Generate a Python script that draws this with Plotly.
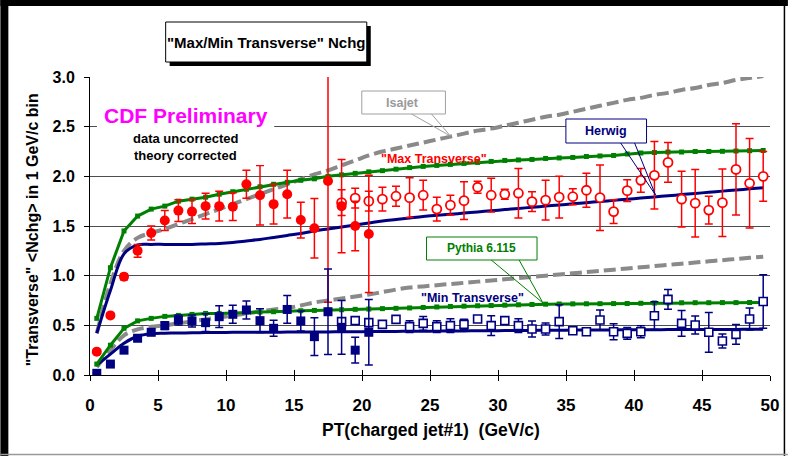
import plotly.graph_objects as go

# bin centres (GeV/c)
x_all = [0.5, 1.5, 2.5, 3.5, 4.5, 5.5, 6.5, 7.5, 8.5, 9.5,
         10.5, 11.5, 12.5, 13.5, 14.5, 15.5, 16.5, 17.5, 18.5, 19.5,
         20.5, 21.5, 22.5, 23.5, 24.5, 25.5, 26.5, 27.5, 28.5, 29.5,
         30.5, 31.5, 32.5, 33.5, 34.5, 35.5, 36.5, 37.5, 38.5, 39.5,
         40.5, 41.5, 42.5, 43.5, 44.5, 45.5, 46.5, 47.5, 48.5, 49.5]
x_low = x_all[:21]     # 0.5 .. 20.5  (filled symbols)
x_high = x_all[18:]    # 18.5 .. 49.5 (open symbols)

# "Max Transverse" data
max_low = [0.235, 0.60, 0.99, 1.25, 1.43, 1.555, 1.655, 1.645, 1.70, 1.70,
           1.695, 1.92, 1.81, 1.72, 1.82, 1.56, 1.477, 1.953, 1.70, 1.50, 1.42]
max_low_err = [0.02, 0.02, 0.03, 0.065, 0.07, 0.10, 0.11, 0.12, 0.13, 0.15,
               0.14, 0.14, 0.30, 0.20, 0.24, 0.18, 0.30, 1.22, 0.47, 0.25, 0.59]
max_high = [1.735, 1.78, 1.75, 1.77, 1.80, 1.785, 1.81, 1.67, 1.71, 1.755,
            1.89, 1.81, 1.82, 1.83, 1.745, 1.76, 1.79, 1.795, 1.86, 1.785,
            1.645, 1.856, 1.96, 2.01, 2.14, 1.77, 1.73, 1.66, 1.735, 2.07,
            1.93, 2.0]
max_high_err = [0.13, 0.10, 0.10, 0.12, 0.10, 0.20, 0.15, 0.12, 0.10, 0.19,
                0.06, 0.17, 0.05, 0.25, 0.10, 0.20, 0.21, 0.08, 0.17, 0.33,
                0.12, 0.11, 0.12, 0.34, 0.20, 0.28, 0.34, 0.14, 0.34, 0.46,
                0.45, 0.25]

# "Min Transverse" data
min_low = [0.017, 0.11, 0.25, 0.37, 0.43, 0.497, 0.554, 0.544, 0.527, 0.587,
           0.611, 0.655, 0.547, 0.47, 0.66, 0.544, 0.386, 0.637, 0.48, 0.25, 0.43]
min_low_err = [0.005, 0.01, 0.02, 0.03, 0.03, 0.04, 0.05, 0.06, 0.09, 0.11,
               0.09, 0.09, 0.12, 0.08, 0.14, 0.10, 0.19, 0.43, 0.27, 0.13, 0.33]
min_high = [0.537, 0.547, 0.527, 0.51, 0.56, 0.487, 0.52, 0.487, 0.497, 0.51,
            0.564, 0.497, 0.547, 0.497, 0.463, 0.463, 0.537, 0.446, 0.436, 0.554,
            0.436, 0.419, 0.436, 0.597, 0.761, 0.52, 0.503, 0.43, 0.342, 0.409,
            0.564, 0.74]
min_high_err = [0.04, 0.02, 0.04, 0.02, 0.02, 0.06, 0.07, 0.06, 0.07, 0.05,
                0.02, 0.10, 0.02, 0.07, 0.08, 0.06, 0.17, 0.03, 0.03, 0.10,
                0.08, 0.06, 0.06, 0.14, 0.10, 0.13, 0.09, 0.20, 0.07, 0.10,
                0.11, 0.27]

# theory curves
pythia_max = [0.57, 1.08, 1.45, 1.60, 1.67, 1.70, 1.75, 1.77, 1.79, 1.82,
              1.845, 1.87, 1.895, 1.92, 1.94, 1.96, 1.975, 2.0, 2.015, 2.03,
              2.045, 2.057, 2.072, 2.088, 2.10, 2.11, 2.12, 2.13, 2.14, 2.15,
              2.16, 2.165, 2.17, 2.18, 2.185, 2.19, 2.20, 2.205, 2.21, 2.225,
              2.235, 2.24, 2.245, 2.245, 2.25, 2.25, 2.252, 2.255, 2.258, 2.26]
pythia_min = [0.11, 0.30, 0.47, 0.545, 0.57, 0.59, 0.60, 0.61, 0.62, 0.62,
              0.627, 0.634, 0.634, 0.637, 0.644, 0.647, 0.65, 0.654, 0.657, 0.661,
              0.664, 0.668, 0.671, 0.675, 0.68, 0.685, 0.69, 0.693, 0.697, 0.70,
              0.703, 0.707, 0.71, 0.713, 0.715, 0.716, 0.717, 0.718, 0.719, 0.72,
              0.722, 0.725, 0.726, 0.727, 0.728, 0.728, 0.729, 0.729, 0.73, 0.73]
herwig_max = [0.42, 0.85, 1.22, 1.31, 1.315, 1.315, 1.315, 1.315, 1.32, 1.325,
              1.335, 1.35, 1.365, 1.385, 1.405, 1.425, 1.45, 1.47, 1.49, 1.51,
              1.53, 1.55, 1.565, 1.58, 1.595, 1.607, 1.618, 1.63, 1.642, 1.653,
              1.665, 1.677, 1.688, 1.70, 1.712, 1.723, 1.735, 1.746, 1.758, 1.77,
              1.781, 1.793, 1.804, 1.816, 1.828, 1.839, 1.851, 1.862, 1.874, 1.886]
herwig_min = [0.10, 0.21, 0.32, 0.39, 0.415, 0.42, 0.423, 0.425, 0.427, 0.428,
              0.43, 0.43, 0.43, 0.43, 0.432, 0.432, 0.433, 0.434, 0.435, 0.436,
              0.437, 0.438, 0.439, 0.44, 0.441, 0.442, 0.443, 0.444, 0.445, 0.446,
              0.447, 0.448, 0.449, 0.45, 0.451, 0.452, 0.452, 0.453, 0.454, 0.455,
              0.455, 0.456, 0.457, 0.457, 0.458, 0.458, 0.459, 0.459, 0.46, 0.46]
isajet_max = [0.42, 0.92, 1.25, 1.38, 1.43, 1.47, 1.52, 1.57, 1.62, 1.67,
              1.72, 1.77, 1.82, 1.87, 1.92, 1.97, 2.02, 2.06, 2.11, 2.16,
              2.21, 2.25, 2.28, 2.31, 2.34, 2.37, 2.40, 2.43, 2.46, 2.48,
              2.51, 2.54, 2.57, 2.60, 2.62, 2.65, 2.68, 2.71, 2.74, 2.77,
              2.79, 2.82, 2.84, 2.87, 2.89, 2.92, 2.94, 2.97, 2.99, 3.01]
isajet_min = [0.08, 0.25, 0.40, 0.46, 0.485, 0.50, 0.52, 0.54, 0.56, 0.58,
              0.60, 0.62, 0.64, 0.66, 0.675, 0.70, 0.73, 0.75, 0.77, 0.79,
              0.81, 0.835, 0.86, 0.88, 0.892, 0.904, 0.916, 0.928, 0.94, 0.952,
              0.964, 0.976, 0.988, 1.00, 1.012, 1.024, 1.036, 1.048, 1.06, 1.072,
              1.084, 1.096, 1.108, 1.12, 1.132, 1.144, 1.156, 1.168, 1.18, 1.19]

RED = "#ff0000"
NAVY = "#000080"
GREEN = "#008000"
GRAY = "#8a8a8a"
ARIAL = "Liberation Sans, Arial, sans-serif"

# plot area in pixels: x 90..773, y 77..375
L, R, T, B = 90, 773, 77, 375


def px(p):
    return (p - L) / (R - L)


def py(p):
    return (B - p) / (B - T)


fig = go.Figure()

for ys in (isajet_max, isajet_min):
    fig.add_trace(go.Scatter(x=x_all, y=ys, mode="lines", line_shape="spline",
                             line=dict(color=GRAY, width=4, dash="12px,5px")))
for ys in (herwig_max, herwig_min):
    fig.add_trace(go.Scatter(x=x_all, y=ys, mode="lines", line_shape="spline",
                             line=dict(color=NAVY, width=3)))
for ys in (pythia_max, pythia_min):
    fig.add_trace(go.Scatter(x=x_all, y=ys, mode="lines+markers",
                             line=dict(color=GREEN, width=3),
                             marker=dict(symbol="square", size=5, color=GREEN)))

# data
fig.add_trace(go.Scatter(x=x_high, y=max_high, mode="markers",
                         error_y=dict(type="data", array=max_high_err, color=RED, thickness=1.5, width=4),
                         marker=dict(symbol="circle", size=9, color="white", line=dict(color=RED, width=1.8))))
fig.add_trace(go.Scatter(x=x_low, y=max_low, mode="markers",
                         error_y=dict(type="data", array=max_low_err, color=RED, thickness=1.5, width=4),
                         marker=dict(symbol="circle", size=10, color=RED)))
fig.add_trace(go.Scatter(x=x_high, y=min_high, mode="markers",
                         error_y=dict(type="data", array=min_high_err, color=NAVY, thickness=1.5, width=4),
                         marker=dict(symbol="square", size=8, color="white", line=dict(color=NAVY, width=1.6))))
fig.add_trace(go.Scatter(x=x_low, y=min_low, mode="markers",
                         error_y=dict(type="data", array=min_low_err, color=NAVY, thickness=1.5, width=4),
                         marker=dict(symbol="square", size=9, color=NAVY)))

# helper trace so the overlay axis (inner tick marks) is drawn
fig.add_trace(go.Scatter(x=[None], y=[None], xaxis="x2", mode="markers", hoverinfo="skip"))

shapes = [
    # slide frame
    dict(type="rect", x0=px(0), x1=px(8), y0=py(456), y1=py(0), fillcolor="black", line=dict(width=0)),
    dict(type="rect", x0=px(0), x1=px(791), y0=py(6), y1=py(0), fillcolor="black", line=dict(width=0)),
    dict(type="line", x0=px(787.5), x1=px(787.5), y0=py(0), y1=py(456), line=dict(color="black", width=1.5)),
    dict(type="line", x0=px(0), x1=px(791), y0=py(454.5), y1=py(454.5), line=dict(color="#999999", width=1.5)),
    # title box with shadow
    dict(type="rect", x0=px(170), x1=px(372), y0=py(66), y1=py(26), fillcolor="black", line=dict(width=0)),
    dict(type="rect", x0=px(166), x1=px(368), y0=py(62), y1=py(22), fillcolor="white", line=dict(color="black", width=1)),
    # white patch behind "CDF Preliminary"
    dict(type="rect", x0=px(97), x1=px(275), y0=py(165), y1=py(97), fillcolor="white", line=dict(width=0)),
    # Isajet callout
    dict(type="rect", x0=px(363), x1=px(447), y0=py(114), y1=py(91), fillcolor="white", line=dict(color="#a0a0a0", width=1)),
    dict(type="path", path=f"M {px(413)},{py(114)} L {px(452)},{py(136)} L {px(433)},{py(114)}",
         line=dict(color="#a0a0a0", width=1)),
    # Herwig callout
    dict(type="rect", x0=px(568), x1=px(649), y0=py(143), y1=py(119), fillcolor="white", line=dict(color=NAVY, width=1)),
    dict(type="path", path=f"M {px(623)},{py(143)} L {px(658)},{py(195)} L {px(637)},{py(143)}",
         line=dict(color=NAVY, width=1)),
    # Pythia callout
    dict(type="rect", x0=px(428), x1=px(539), y0=py(260), y1=py(237), fillcolor="white", line=dict(color=GREEN, width=1)),
    dict(type="path", path=f"M {px(493)},{py(260)} L {px(545)},{py(303)} L {px(521)},{py(260)}",
         line=dict(color=GREEN, width=1)),
]
for s in shapes:
    s.update(xref="paper", yref="paper")


def label(text, cx, cy, color="black", size=13, angle=0):
    return dict(text=text, x=px(cx), y=py(cy), xref="paper", yref="paper",
                showarrow=False, xanchor="center", yanchor="middle", textangle=angle,
                font=dict(family=ARIAL, size=size, color=color))


annotations = [
    label("<b>\"Max/Min Transverse\" Nchg</b>", 267, 42, size=15),
    label("<b>CDF Preliminary</b>", 186, 115, color="#ff00ff", size=21),
    label("<b>data uncorrected</b>", 186, 138, size=13),
    label("<b>theory corrected</b>", 186, 155, size=13),
    label("<b>Isajet</b>", 404, 103, color="#9a9a9a", size=12.5),
    label("<b>Herwig</b>", 608, 131, color=NAVY, size=12.5),
    label("<b>Pythia 6.115</b>", 483, 248, color=GREEN, size=12),
    label("<b>\"Max Transverse\"</b>", 436, 159, color=RED, size=12.5),
    label("<b>\"Min Transverse\"</b>", 474, 298, color=NAVY, size=12.5),
    label("<b>PT(charged jet#1) \u00a0(GeV/c)</b>", 433, 430, size=17.5),
    label("<b>\"Transverse\" &lt;Nchg&gt; in 1 GeV/c bin</b>", 32, 230, size=16, angle=-90),
]

fig.update_layout(
    width=791, height=456,
    margin=dict(l=L, r=791 - R, t=T, b=456 - B),
    paper_bgcolor="white", plot_bgcolor="white",
    showlegend=False,
    shapes=shapes,
    annotations=annotations,
    xaxis=dict(range=[0, 50], tick0=0, dtick=5, showgrid=False, zeroline=False,
               showline=True, linecolor="black", linewidth=1,
               ticks="outside", ticklen=5, tickcolor="black", ticklabelstandoff=10,
               tickfont=dict(family=ARIAL, size=17, color="black"), tickprefix="<b>", ticksuffix="</b>"),
    xaxis2=dict(range=[0, 50], tick0=0, dtick=5, overlaying="x", anchor="y", side="bottom",
                showgrid=False, zeroline=False, showline=False, showticklabels=False,
                ticks="inside", ticklen=5, tickcolor="black"),
    yaxis=dict(range=[0, 3], tick0=0, dtick=0.5, tickformat=".1f",
               showgrid=True, gridcolor="#4d4d4d", gridwidth=1, zeroline=False,
               showline=True, linecolor="black", linewidth=1,
               ticks="outside", ticklen=5, tickcolor="black", ticklabelstandoff=6,
               tickfont=dict(family=ARIAL, size=16, color="black"), tickprefix="<b>", ticksuffix="</b>"),
)

# the page body has a default 8px margin; remove it so the figure sits at (0, 0)
fig.write_html("out.html", config={"displayModeBar": False},
               post_script="document.body.style.margin = '0px';")
